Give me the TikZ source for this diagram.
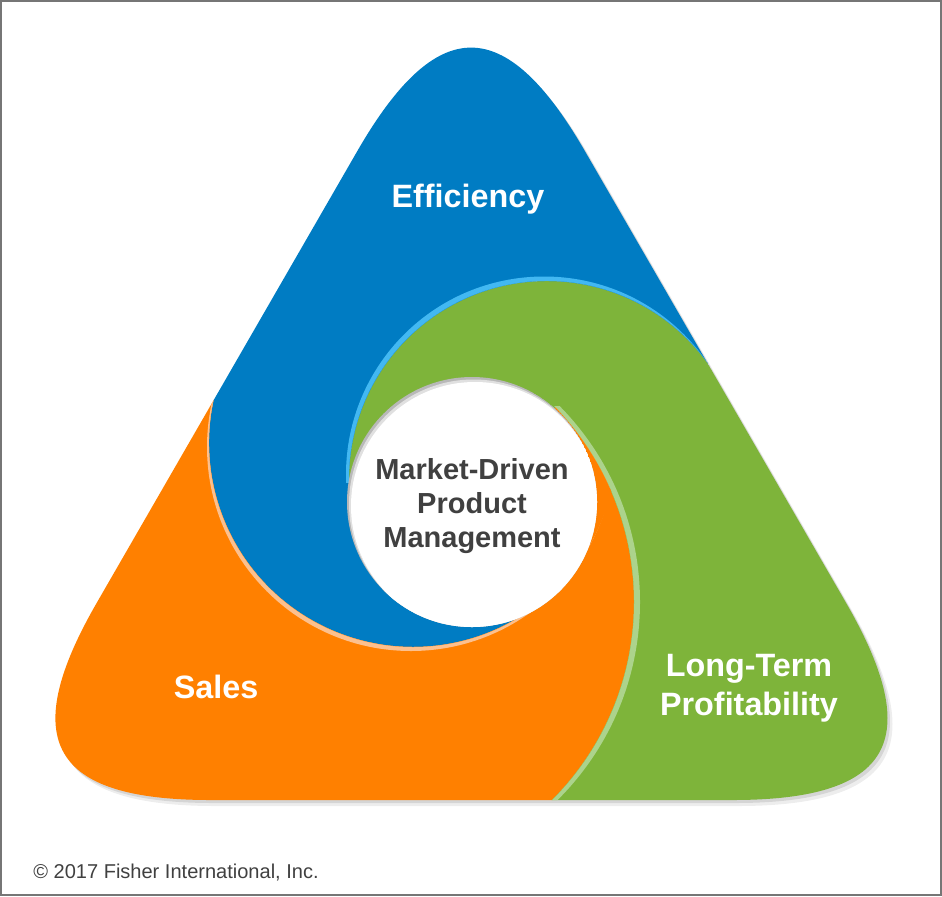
\documentclass[tikz,border=0pt]{standalone}
\usepackage{fontspec}
\setmainfont{Liberation Sans}
\usetikzlibrary{calc}

\definecolor{effBlue}{RGB}{0,124,195}
\definecolor{effBlueLight}{RGB}{66,184,242}
\definecolor{salesOrange}{RGB}{255,128,0}
\definecolor{salesPeach}{RGB}{252,192,142}
\definecolor{profGreen}{RGB}{126,180,58}
\definecolor{profGreenLight}{RGB}{172,211,140}
\definecolor{hubText}{RGB}{64,64,64}
\definecolor{frameGray}{RGB}{118,118,118}

\tikzset{
    segLabel/.style={font=\bfseries\fontsize{18.4}{22}\selectfont, text=white, align=center, inner sep=0pt},
    hubLabel/.style={font=\bfseries\fontsize{16.5}{19.6}\selectfont, text=hubText, align=center, inner sep=0pt},
    noteLabel/.style={font=\fontsize{11.4}{13}\selectfont, text=hubText, inner sep=0pt}
}

% outline of the triangle and the three swirl parts (units = pixels)
\newcommand{\triOutline}{(210.6,800) -- (732.4,800) .. controls (891.7,800) and (925.8,740.9) .. (846.1,602.9)
    -- (584.9,151.1) .. controls (505.2,13.1) and (436.9,13.1) .. (357.3,151.1)
    -- (96.7,602.9) .. controls (17.1,740.9) and (51.3,800) .. (210.6,800) -- cycle}
\newcommand{\bluePart}{($(bArc)+(58:204)$) arc[start angle=58, end angle=205, radius=204]
    -- (-100,357) -- (-100,-100) -- (1100,-100) -- (1100,380)
    -- ($(gArc)+(330:198)$) arc[start angle=330, end angle=175, radius=198] -- (hub) -- cycle}
\newcommand{\greenPart}{($(gArc)+(175:198)$) arc[start angle=175, end angle=330, radius=198]
    -- (1100,380) -- (1100,1000) -- (514.6,1000)
    -- ($(oArc)+(55:280)$) arc[start angle=55, end angle=-44, radius=280] -- (hub) -- cycle}
\newcommand{\orangePart}{($(oArc)+(-44:280)$) arc[start angle=-44, end angle=55, radius=280]
    -- (514.6,1000) -- (-100,1000) -- (-100,357)
    -- ($(bArc)+(205:204)$) arc[start angle=205, end angle=58, radius=204] -- (hub) -- cycle}

\begin{document}
\begin{tikzpicture}[x=0.02cm, y=-0.02cm]
\useasboundingbox (0,0) rectangle (942,896);
\coordinate (hub) at (472,502);
\coordinate (gArc) at (547,479);
\coordinate (oArc) at (354,602);
\coordinate (bArc) at (413,443);

% soft shadow
\fill[black, opacity=0.07, shift={(5,6)}] \triOutline;
\fill[black, opacity=0.10, shift={(2.5,3)}] \triOutline;

\begin{scope}
    \clip \triOutline;
    \fill[effBlue] \bluePart;
    \fill[profGreen] \greenPart;
    \fill[salesOrange] \orangePart;
    % highlights along the seams
    \begin{scope}
        \clip \bluePart;
        \clip (0,0) rectangle (1000,482);
        \fill[effBlueLight] ($(gArc)+(-3,-4.5)$) circle[radius=198];
        \fill[effBlue] (gArc) circle[radius=198];
    \end{scope}
    \begin{scope}
        \clip \greenPart;
        \clip (548,406) rectangle (1100,1000);
        \fill[profGreenLight] ($(oArc)+(7,0)$) circle[radius=279];
        \fill[profGreen] (oArc) circle[radius=280];
    \end{scope}
    \begin{scope}
        \clip \orangePart;
        \fill[salesPeach] ($(bArc)+(-2,4)$) circle[radius=204];
        \fill[salesOrange] (bArc) circle[radius=204];
    \end{scope}
\end{scope}

% centre disc with inner shadow
\begin{scope}
    \clip (hub) circle[radius=125];
    \fill[black!28] (hub) circle[radius=125];
    \fill[black!12] ($(hub)+(1.5,2)$) circle[radius=124.5];
    \fill[white] ($(hub)+(3,4)$) circle[radius=124];
\end{scope}

\node[segLabel, anchor=base] (eff) at (468,207) {Efficiency};
\node[segLabel, anchor=base] (sales) at (216,698) {Sales};
\node[segLabel] (profit) at (749,688) {Long-Term\\Profitability};
\node[hubLabel] (mdpm) at (472,506) {Market-Driven\\Product\\Management};
\node[noteLabel, anchor=base west] (note) at (33,878) {© 2017 Fisher International, Inc.};

\draw[frameGray, line width=1.2pt] (1,1) rectangle (941,895);
\end{tikzpicture}
\end{document}
